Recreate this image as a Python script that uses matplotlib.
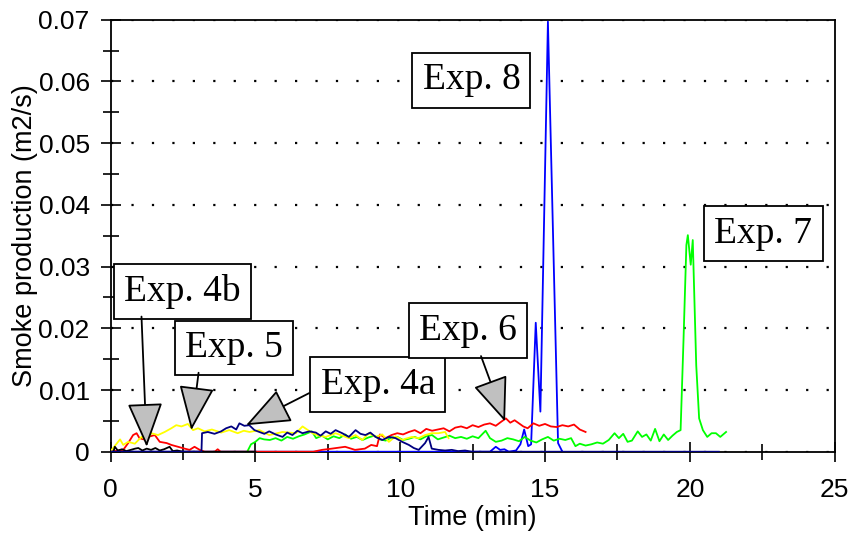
import matplotlib
matplotlib.use("Agg")
import matplotlib.pyplot as plt
from matplotlib.ticker import MultipleLocator

# ---- data: smoke production (m2/s) vs time (min) ----
t_exp8 = [0.0, 13.1, 13.3, 13.45, 13.6, 13.75, 14.0, 14.15, 14.28, 14.42, 14.52,
          14.68, 14.84, 15.1, 15.45, 15.6]
v_exp8 = [0.0, 0.0, 0.0008, 0.0003, 0.0004, 0.0, 0.0002, 0.0012, 0.0036, 0.0009, 0.0012,
          0.0209, 0.0065, 0.0697, 0.0014, 0.0]

t_exp4a = [0.0, 3.14, 3.16, 3.36, 3.59, 3.82, 3.99, 4.17, 4.34, 4.45, 4.62, 4.79, 4.97,
           5.14, 5.31, 5.48, 5.7, 5.94, 6.1, 6.28, 6.45, 6.63, 6.86, 7.09, 7.25, 7.43,
           7.6, 7.77, 8.0, 8.23, 8.46, 8.63, 8.8, 8.97, 9.15, 9.38, 9.61, 9.84, 10.07,
           10.3, 10.47, 10.64, 10.86, 10.98, 11.09, 11.32, 11.55, 11.78, 12.0, 12.24,
           12.47, 21.0]
v_exp4a = [0.0, 0.0, 0.0030, 0.0032, 0.0029, 0.0033, 0.0038, 0.0041, 0.0036, 0.0046,
           0.0042, 0.0043, 0.0035, 0.0032, 0.0029, 0.0033, 0.0028, 0.0024, 0.0031,
           0.0027, 0.0034, 0.0030, 0.0033, 0.0031, 0.0026, 0.0033, 0.0029, 0.0035,
           0.0030, 0.0024, 0.0035, 0.0029, 0.0027, 0.0031, 0.0024, 0.0019, 0.0024,
           0.0022, 0.0016, 0.0011, 0.0006, 0.0003, 0.0014, 0.0024, 0.0005, 0.0003,
           0.0002, 0.0003, 0.0001, 0.0002, 0.0, 0.0]

t_exp7 = [4.72, 4.85, 5.0, 5.15, 5.3, 5.5, 5.7, 5.9, 6.1, 6.3, 6.5, 6.7, 6.95, 7.1, 7.3,
          7.5, 7.7, 7.9, 8.1, 8.3, 8.5, 8.7, 8.9, 9.1, 9.3, 9.5, 9.7, 9.9, 10.1, 10.3,
          10.5, 10.7, 10.9, 11.1, 11.3, 11.5, 11.7, 11.9, 12.1, 12.3, 12.5, 12.7, 12.95,
          13.1, 13.3, 13.5, 13.7, 13.9, 14.1, 14.3, 14.5, 14.7, 14.9, 15.1, 15.3, 15.5,
          15.7, 15.9, 16.05, 16.2, 16.4, 16.6, 16.8, 17.0, 17.2, 17.4, 17.55, 17.7,
          17.85, 18.0, 18.2, 18.35, 18.5, 18.65, 18.8, 18.95, 19.1, 19.25, 19.4, 19.55,
          19.68, 19.78, 19.88, 19.93, 20.03, 20.1, 20.22, 20.32, 20.45, 20.6, 20.75,
          20.9, 21.05, 21.25]
v_exp7 = [0.0, 0.0012, 0.0016, 0.0022, 0.0020, 0.0019, 0.0022, 0.0018, 0.0024, 0.0021,
          0.0025, 0.0028, 0.0033, 0.0022, 0.0026, 0.0020, 0.0025, 0.0022, 0.0028,
          0.0021, 0.0024, 0.0019, 0.0023, 0.0026, 0.0020, 0.0018, 0.0023, 0.0024,
          0.0019, 0.0021, 0.0024, 0.0020, 0.0025, 0.0027, 0.0020, 0.0023, 0.0026,
          0.0022, 0.0024, 0.0021, 0.0025, 0.0022, 0.0034, 0.0022, 0.0016, 0.0018,
          0.0022, 0.0020, 0.0017, 0.0024, 0.0018, 0.0015, 0.0020, 0.0024, 0.0018,
          0.0021, 0.0019, 0.0022, 0.0009, 0.0013, 0.0010, 0.0012, 0.0015, 0.0013,
          0.0019, 0.0030, 0.0022, 0.0029, 0.0016, 0.0018, 0.0033, 0.0024, 0.0028,
          0.0018, 0.0037, 0.0017, 0.0028, 0.0019, 0.0026, 0.0032, 0.0035, 0.0180,
          0.0335, 0.0351, 0.0303, 0.0343, 0.0140, 0.0054, 0.0035, 0.0024, 0.0030,
          0.0030, 0.0024, 0.0032]

t_exp6 = [0.0, 0.44, 0.61, 0.78, 0.9, 1.0, 1.14, 1.3, 1.53, 1.7, 1.94, 2.1, 2.33, 2.56,
          2.73, 2.9, 3.08, 3.25, 3.6, 3.7, 3.8, 7.0, 7.3, 7.64, 8.1, 8.44, 8.78, 9.0,
          9.2, 9.3, 9.5, 9.7, 9.9, 10.1, 10.3, 10.5, 10.7, 10.9, 11.1, 11.3, 11.5, 11.7,
          11.9, 12.1, 12.3, 12.5, 12.7, 12.9, 13.1, 13.3, 13.5, 13.65, 13.8, 13.95,
          14.1, 14.25, 14.4, 14.6, 14.8, 15.0, 15.2, 15.4, 15.6, 15.8, 16.0, 16.2, 16.4]
v_exp6 = [0.0, 0.0003, 0.0014, 0.0027, 0.0030, 0.0022, 0.0020, 0.0024, 0.0027, 0.0016,
          0.0014, 0.0011, 0.0008, 0.0005, 0.0003, 0.0008, 0.0003, 0.0, 0.0, 0.0004,
          0.0, 0.0, 0.0003, 0.0005, 0.0008, 0.0003, 0.0005, 0.0011, 0.0009, 0.0028,
          0.0022, 0.0027, 0.0030, 0.0028, 0.0032, 0.0035, 0.0030, 0.0037, 0.0034,
          0.0036, 0.0038, 0.0033, 0.0039, 0.0041, 0.0038, 0.0043, 0.0040, 0.0044,
          0.0046, 0.0042, 0.0049, 0.0054, 0.0047, 0.0051, 0.0046, 0.0041, 0.0038,
          0.0046, 0.0042, 0.0045, 0.0041, 0.0040, 0.0043, 0.0041, 0.0044, 0.0036,
          0.0032]

t_exp5 = [0.04, 0.33, 0.44, 0.61, 0.84, 1.07, 1.25, 1.41, 1.64, 1.87, 2.1, 2.27, 2.45,
          2.67, 2.85, 3.02, 3.25, 3.5, 3.82, 4.1, 4.39, 4.6, 4.8, 5.14, 5.48, 5.94, 6.4,
          6.63, 6.97, 7.2, 7.43, 7.77, 8.0, 8.23, 8.46, 8.69, 8.92, 9.15, 9.38, 9.61,
          9.84, 10.07, 10.18, 10.41, 10.64, 10.86, 11.09, 11.32, 11.55, 11.67]
v_exp5 = [0.0003, 0.0020, 0.0011, 0.0016, 0.0013, 0.0024, 0.0019, 0.0030, 0.0027,
          0.0032, 0.0038, 0.0043, 0.0041, 0.0045, 0.0035, 0.0038, 0.0033, 0.0036,
          0.0031, 0.0035, 0.0030, 0.0034, 0.0032, 0.0035, 0.0027, 0.0032, 0.0030,
          0.0041, 0.0030, 0.0026, 0.0024, 0.0030, 0.0026, 0.0022, 0.0027, 0.0019,
          0.0030, 0.0024, 0.0028, 0.0016, 0.0025, 0.0019, 0.0021, 0.0024, 0.0022,
          0.0027, 0.0030, 0.0030, 0.0032, 0.0022]

t_exp4b = [0.0, 0.1, 0.15, 0.25, 0.4, 0.55, 0.7, 0.85, 0.96, 1.1, 1.25, 1.4, 1.55, 1.7,
           1.85, 2.04, 2.15, 2.3, 2.5, 5.0]
v_exp4b = [0.0, 0.0, 0.0008, 0.0002, 0.0004, 0.0001, 0.0003, 0.0005, 0.0006, 0.0002,
           0.0005, 0.0003, 0.0006, 0.0002, 0.0004, 0.0008, 0.0001, 0.0002, 0.0, 0.0]

x_ticks = [0, 5, 10, 15, 20, 25]
y_ticks = [0, 0.01, 0.02, 0.03, 0.04, 0.05, 0.06, 0.07]
y_tick_labels = ["0", "0.01", "0.02", "0.03", "0.04", "0.05", "0.06", "0.07"]

# label text, box centre (time, value), arrow start on the box edge, arrow tip
labels = [
    ("Exp. 8", (12.46, 0.0602), None, None),
    ("Exp. 7", (22.54, 0.0354), None, None),
    ("Exp. 4b", (2.48, 0.0260), (1.07, 0.0219), (1.25, 0.0008)),
    ("Exp. 5", (4.26, 0.0168), (3.04, 0.0128), (2.79, 0.0035)),
    ("Exp. 4a", (9.23, 0.0109), (6.86, 0.0095), (4.68, 0.0043)),
    ("Exp. 6", (12.33, 0.0196), (12.79, 0.0155), (13.62, 0.0049)),
]

# ---- figure ----
plt.rcParams["font.family"] = ["Liberation Sans", "DejaVu Sans"]
fig = plt.figure(figsize=(8.5, 5.33), dpi=100)
ax = fig.add_axes([0.13, 0.1525, 0.852, 0.8104])

lw = 1.3
ax.plot(t_exp8, v_exp8, color="#0000ff", lw=lw, zorder=3)
ax.plot(t_exp4a, v_exp4a, color="#000080", lw=lw, zorder=4)
ax.plot(t_exp7, v_exp7, color="#00ff00", lw=lw, zorder=3)
ax.plot(t_exp6, v_exp6, color="#ff0000", lw=lw, zorder=3)
ax.plot(t_exp5, v_exp5, color="#ffff00", lw=lw, zorder=3)
ax.plot(t_exp4b, v_exp4b, color="#000000", lw=lw, zorder=3)

ax.set_xlim(0, 25)
ax.set_ylim(0, 0.07)
ax.set_xticks(x_ticks)
ax.set_yticks(y_ticks)
ax.set_yticklabels(y_tick_labels)
ax.xaxis.set_minor_locator(MultipleLocator(2.5))
ax.yaxis.set_minor_locator(MultipleLocator(0.005))
ax.tick_params(which="major", direction="inout", length=14, width=1.2,
               labelsize=19, colors="black", pad=8)
ax.tick_params(which="minor", direction="inout", length=12, width=1.2)
ax.tick_params(axis="x", which="major", pad=12)
for s in ax.spines.values():
    s.set_linewidth(1.3)

# dotted horizontal grid
ax.yaxis.grid(True, which="major", color="black", linestyle=(0, (1.0, 8.2)),
              linewidth=1.6)
ax.set_axisbelow(True)

ax.set_xlabel("Time (min)", fontsize=19.5, labelpad=2)
ax.set_ylabel("Smoke production (m2/s)", fontsize=19.5, labelpad=0)

box = dict(boxstyle="square,pad=0.27", fc="white", ec="black", lw=1.3)
for text, (bx, by), start, tip in labels:
    ax.text(bx, by, text, fontsize=27, family="Liberation Serif",
            ha="center", va="center", bbox=box, zorder=6)
    if tip is not None:
        ax.annotate("", xy=tip, xytext=start, zorder=7,
                    arrowprops=dict(arrowstyle="-|>,head_length=1.05,head_width=0.42",
                                    mutation_scale=27, fc="#c0c0c0", ec="black",
                                    lw=1.3, shrinkA=0, shrinkB=0))

fig.savefig("out.png", dpi=100)
